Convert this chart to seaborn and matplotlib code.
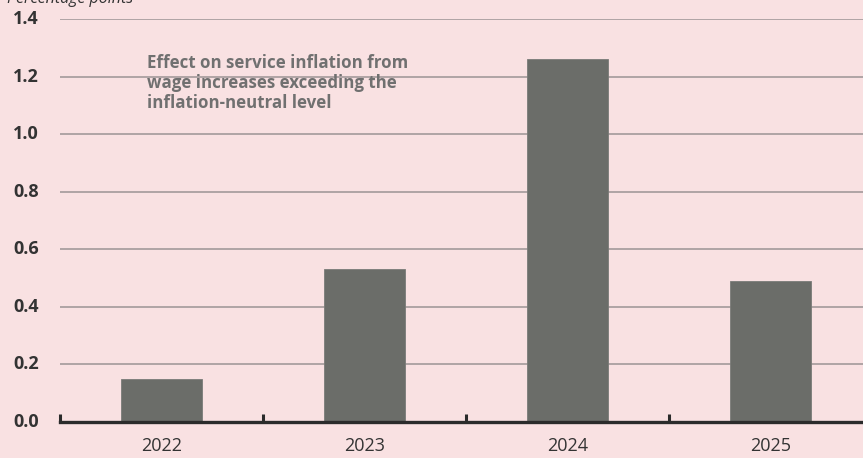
import matplotlib
matplotlib.use("Agg")
import matplotlib.pyplot as plt
import matplotlib.transforms as mtransforms
from matplotlib.ticker import FixedLocator
import seaborn as sns
import pandas as pd

years = ["2022", "2023", "2024", "2025"]
effect = [0.15, 0.53, 1.26, 0.49]
yticks = [0.0, 0.2, 0.4, 0.6, 0.8, 1.0, 1.2, 1.4]

bg = "#f9e1e2"
bar_color = "#6b6d69"

sns.set_theme(style="white")
plt.rcParams["font.family"] = ["Open Sans", "DejaVu Sans"]

fig = plt.figure(figsize=(8.63, 4.58), dpi=100, facecolor=bg)
ax = fig.add_axes([60 / 863, 36 / 458, 1 - 60 / 863, (422 - 19) / 458])
ax.set_facecolor(bg)

df = pd.DataFrame({"year": years, "effect": effect})
sns.barplot(data=df, x="year", y="effect", color=bar_color, width=0.4,
            saturation=1, ax=ax, zorder=3, edgecolor="#7a7c78", linewidth=0.6)

ax.set_ylim(0, 1.4)
ax.set_xlim(-0.5, 3.455)

# horizontal grid lines
for v in yticks[1:]:
    ax.axhline(v, color="#a39a9a", linewidth=1.2, zorder=1)

for s in ["top", "right", "left"]:
    ax.spines[s].set_visible(False)
ax.spines["bottom"].set_color("#2b2b2b")
ax.spines["bottom"].set_linewidth(2.4)
ax.spines["bottom"].set_zorder(4)

ax.set_yticks(yticks)
ax.set_yticklabels([])
ax.tick_params(axis="y", length=0)
ax.set_xlabel("")
ax.set_ylabel("")

# category labels centered, separator ticks between categories
ax.tick_params(axis="x", which="both", bottom=True)
ax.tick_params(axis="x", which="major", length=0, pad=11, labelsize=13,
               labelcolor="#333333")
ax.xaxis.set_minor_locator(FixedLocator([-0.5, 0.5, 1.5, 2.5]))
ax.tick_params(axis="x", which="minor", direction="in", length=6, width=2.2,
               color="#2b2b2b")

# left-aligned bold y labels
trans = mtransforms.blended_transform_factory(fig.transFigure, ax.transData)
for v in yticks:
    ax.text(13 / 863, v, f"{v:.1f}", transform=trans, ha="left", va="center",
            fontsize=13, fontweight="bold", color="#333333")

fig.text(7 / 863, (458 - 3) / 458, "Percentage points", ha="left",
         va="baseline", fontsize=11.5, style="italic", color="#333333")

ax.text(147 / 863, 1.28, "Effect on service inflation from\n"
        "wage increases exceeding the\ninflation-neutral level",
        transform=trans, ha="left", va="top", fontsize=12.2, fontweight="bold",
        color="#707070", linespacing=1.15, zorder=5)

fig.savefig("out.png", dpi=100, facecolor=bg)
